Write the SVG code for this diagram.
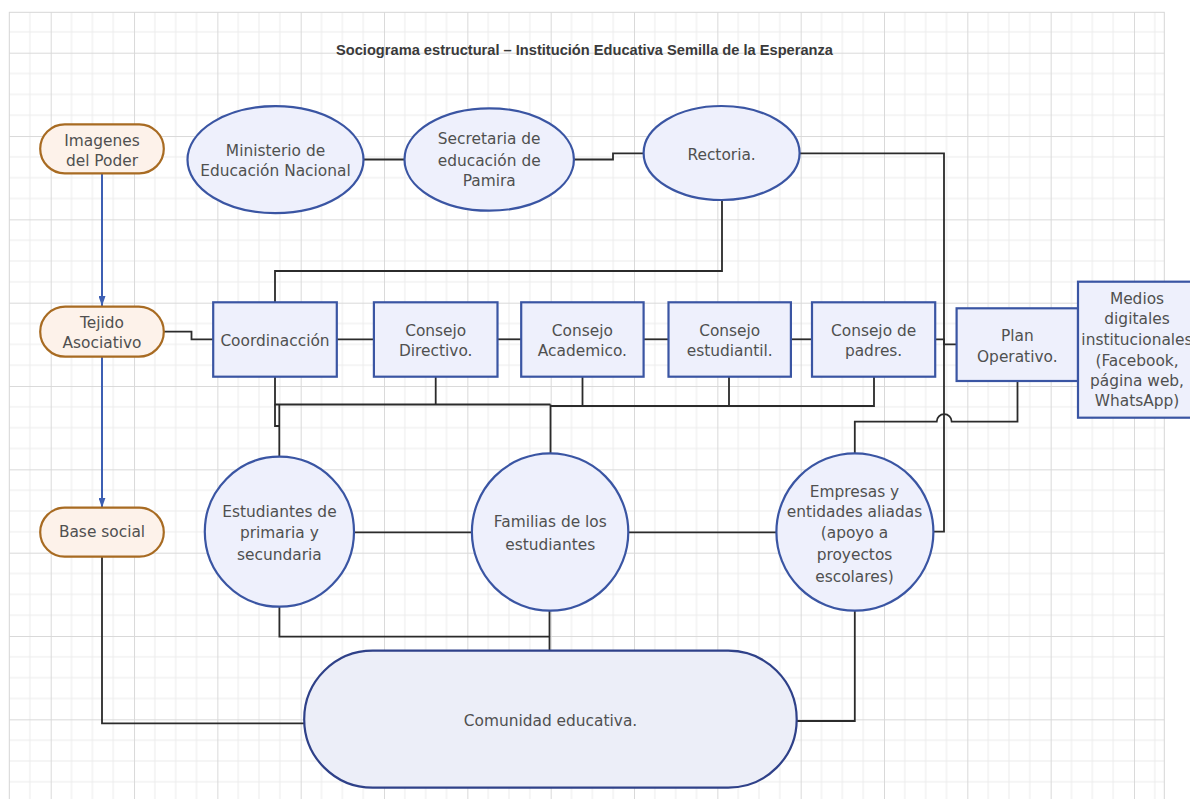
<svg xmlns="http://www.w3.org/2000/svg" width="1190" height="799" viewBox="0 0 1190 799">
<defs>
<pattern id="grid" patternUnits="userSpaceOnUse" x="50.7" y="52.7" width="83.33" height="83.33">
<path d="M20.83,0V83.33M41.67,0V83.33M62.5,0V83.33M0,20.83H83.33M0,41.67H83.33M0,62.5H83.33" stroke="#ececec" stroke-width="1" fill="none"/>
<path d="M0.5,0V83.33M0,0.5H83.33" stroke="#d9d9d9" stroke-width="1" fill="none"/>
</pattern>
<marker id="arr" markerWidth="10" markerHeight="7" refX="10" refY="3.5" orient="auto" markerUnits="userSpaceOnUse">
<path d="M0,0L10,3.5L0,7z" fill="#3d5fb3"/>
</marker>
</defs>
<style>
.t{font-family:"DejaVu Sans","Liberation Sans",sans-serif;font-size:15.4px;fill:#505050;text-anchor:middle}
.title{font-family:"Liberation Sans Narrow","Liberation Sans",sans-serif;font-size:15.5px;fill:#3a3a3a;font-weight:bold}
.pill{fill:#fdf2ea;stroke:#a86b22;stroke-width:2.2}
.nd{fill:#eef0fc;stroke:#3a55a3;stroke-width:2.2}
.cn{fill:none;stroke:#2b2b2b;stroke-width:1.8}
.bl{fill:none;stroke:#3d5fb3;stroke-width:2}
</style>
<rect x="0" y="0" width="1190" height="799" fill="#ffffff"/>
<rect x="9.3" y="12.3" width="1155" height="800" fill="url(#grid)" stroke="#d6d6d6" stroke-width="1"/>
<text class="title" x="336" y="55" textLength="497" lengthAdjust="spacingAndGlyphs">Sociograma estructural – Institución Educativa Semilla de la Esperanza</text>
<g id="connectors">
<path class="cn" d="M363.6,159.5H404.5"/>
<path class="cn" d="M574,159.5H613V153.3H643.6"/>
<path class="cn" d="M722,200V271H275V302.3"/>
<path class="cn" d="M799.7,153.3H944V531.7H933.3"/>
<path class="bl" d="M102,173.3V306" marker-end="url(#arr)"/>
<path class="bl" d="M102,356.7V507.7" marker-end="url(#arr)"/>
<path class="cn" d="M163.8,331.7H191.5V339.3H213.2"/>
<path class="cn" d="M336.8,339.3H373.9"/>
<path class="cn" d="M497.5,339.3H521.2"/>
<path class="cn" d="M643.6,339.3H668.5"/>
<path class="cn" d="M790.9,339.3H812"/>
<path class="cn" d="M935.2,339.3H944V344.3H956.6"/>
<path class="cn" d="M1017.5,381V421.7H951.7A7.5,7.5 0 0 0 936.7,421.7H854.8V453.3"/>
<path class="cn" d="M275,376.7V404.5H550.5" stroke-width="2.8"/>
<path class="cn" d="M275,404.5V426H279"/>
<path class="cn" d="M279.3,404.5V456.7"/>
<path class="cn" d="M435.7,376.7V404.5" stroke-width="2.4"/>
<path class="cn" d="M550.5,404.5V453.3"/>
<path class="cn" d="M582.5,376.7V406H550.5"/>
<path class="cn" d="M729,376.7V406H582.5"/>
<path class="cn" d="M874,376.7V406H729"/>
<path class="cn" d="M102,556.7V723.3H304.2"/>
<path class="cn" d="M354,532.3H471.9"/>
<path class="cn" d="M628.3,532.3H776.4"/>
<path class="cn" d="M279.4,606.7V636.7H549.5"/>
<path class="cn" d="M549.5,610.7V650.7"/>
<path class="cn" d="M854.8,610.7V721H796.7"/>
</g>
<g id="imagenes">
<rect class="pill" x="40.2" y="124.3" width="123.6" height="49" rx="24.5"/>
<text class="t" x="102" y="145.5">Imagenes</text>
<text class="t" x="102" y="165.5">del Poder</text>
</g>
<g id="tejido">
<rect class="pill" x="40.2" y="306.7" width="123.6" height="50" rx="25"/>
<text class="t" x="102" y="327.8">Tejido</text>
<text class="t" x="102" y="347.8">Asociativo</text>
</g>
<g id="base">
<rect class="pill" x="40.2" y="507.7" width="123.6" height="49" rx="24.5"/>
<text class="t" x="102" y="537.2">Base social</text>
</g>
<g id="ministerio">
<ellipse class="nd" cx="275.5" cy="159.7" rx="88" ry="53.5"/>
<text class="t" x="275.5" y="155.5">Ministerio de</text>
<text class="t" x="275.5" y="176.2">Educación Nacional</text>
</g>
<g id="secretaria">
<ellipse class="nd" cx="489.2" cy="159.5" rx="84.7" ry="51.2"/>
<text class="t" x="489.2" y="143.8">Secretaria de</text>
<text class="t" x="489.2" y="166.2">educación de</text>
<text class="t" x="489.2" y="186.2">Pamira</text>
</g>
<g id="rectoria">
<ellipse class="nd" cx="721.6" cy="153" rx="78" ry="47"/>
<text class="t" x="721.6" y="159.5">Rectoria.</text>
</g>
<g id="coordinacion">
<rect class="nd" x="213.2" y="302.3" width="123.6" height="74.4"/>
<text class="t" x="275" y="346.2">Coordinacción</text>
</g>
<g id="directivo">
<rect class="nd" x="373.9" y="302.3" width="123.6" height="74.4"/>
<text class="t" x="435.7" y="336.2">Consejo</text>
<text class="t" x="435.7" y="356.2">Directivo.</text>
</g>
<g id="academico">
<rect class="nd" x="521.2" y="302.3" width="122.4" height="74.4"/>
<text class="t" x="582.4" y="336.2">Consejo</text>
<text class="t" x="582.4" y="356.2">Academico.</text>
</g>
<g id="estudiantil">
<rect class="nd" x="668.5" y="302.3" width="122.4" height="74.4"/>
<text class="t" x="729.7" y="336.2">Consejo</text>
<text class="t" x="729.7" y="356.2">estudiantil.</text>
</g>
<g id="padres">
<rect class="nd" x="812" y="302.3" width="123.2" height="74.4"/>
<text class="t" x="873.6" y="336.2">Consejo de</text>
<text class="t" x="873.6" y="356.2">padres.</text>
</g>
<g id="plan">
<rect class="nd" x="956.6" y="308.3" width="121.4" height="72.7"/>
<text class="t" x="1017.3" y="341.2">Plan</text>
<text class="t" x="1017.3" y="361.5">Operativo.</text>
</g>
<g id="medios">
<rect class="nd" x="1078" y="281.7" width="118" height="136"/>
<text class="t" x="1137" y="303.8">Medios</text>
<text class="t" x="1137" y="323.8">digitales</text>
<text class="t" x="1137" y="344.8">institucionales</text>
<text class="t" x="1137" y="365.5">(Facebook,</text>
<text class="t" x="1137" y="386.2">página web,</text>
<text class="t" x="1137" y="406.2">WhatsApp)</text>
</g>
<g id="estudiantes">
<ellipse class="nd" cx="279.4" cy="531.7" rx="74.6" ry="75"/>
<text class="t" x="279.4" y="517.2">Estudiantes de</text>
<text class="t" x="279.4" y="537.8">primaria y</text>
<text class="t" x="279.4" y="559.5">secundaria</text>
</g>
<g id="familias">
<ellipse class="nd" cx="550.1" cy="532" rx="78.2" ry="78.7"/>
<text class="t" x="550.3" y="527.2">Familias de los</text>
<text class="t" x="550.3" y="549.5">estudiantes</text>
</g>
<g id="empresas">
<ellipse class="nd" cx="854.9" cy="532" rx="78.5" ry="78.7"/>
<text class="t" x="854.5" y="497.2">Empresas y</text>
<text class="t" x="854.5" y="517.2">entidades aliadas</text>
<text class="t" x="854.5" y="537.8">(apoyo a</text>
<text class="t" x="854.5" y="559.8">proyectos</text>
<text class="t" x="854.5" y="581.5">escolares)</text>
</g>
<g id="comunidad">
<rect x="304.2" y="650.7" width="492.5" height="137" rx="68.5" fill="#eceef8" stroke="#2f4189" stroke-width="2.2"/>
<text class="t" x="550.5" y="725.5">Comunidad educativa.</text>
</g>
</svg>
